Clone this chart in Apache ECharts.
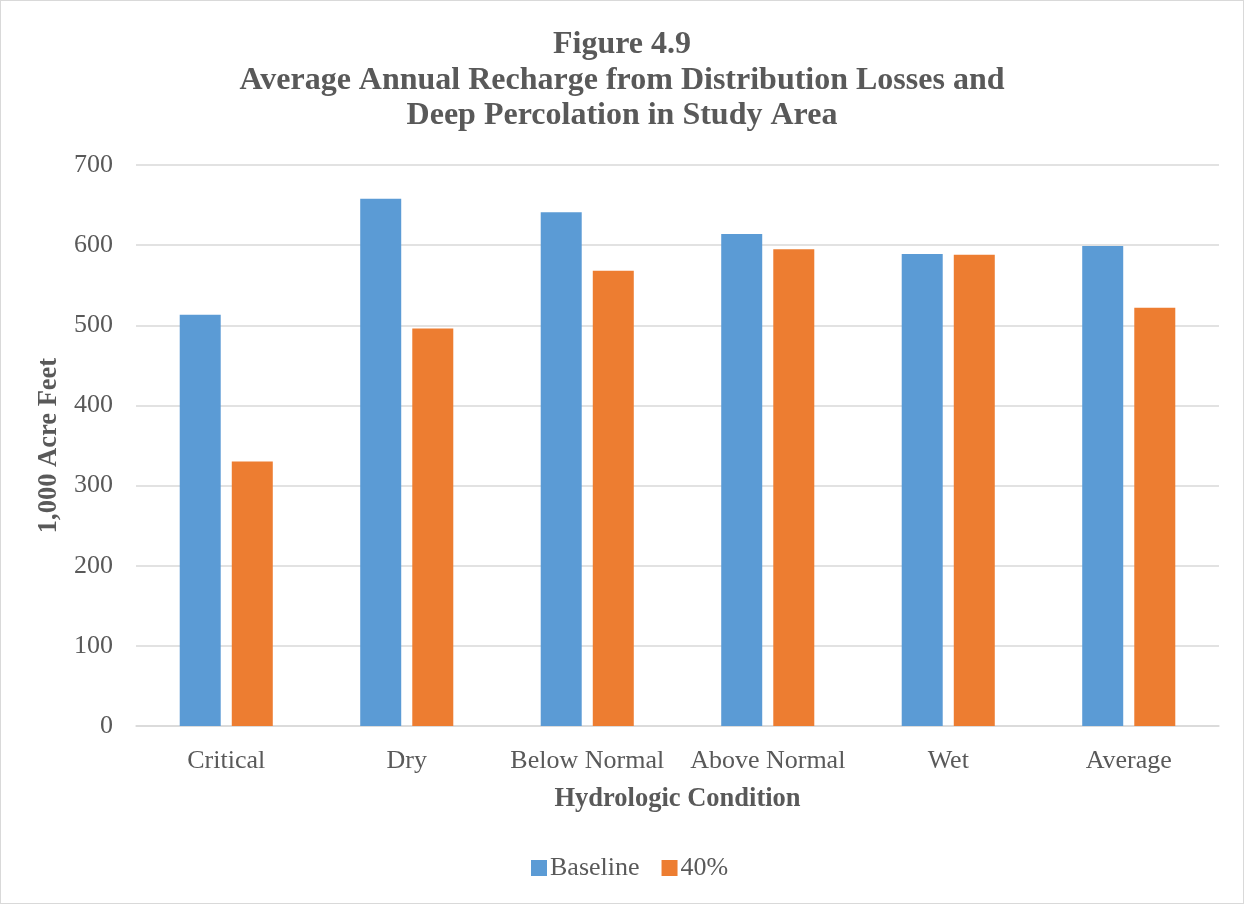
<!DOCTYPE html>
<html>
<head>
<meta charset="utf-8">
<script src="https://cdn.jsdelivr.net/npm/echarts@6/dist/echarts.min.js"></script>
<style>
  html, body { margin: 0; padding: 0; background: #fff; }
  #chart { position: absolute; left: 0; top: 0; width: 1244px; height: 904px;
           border: 1px solid #d9d9d9; box-sizing: border-box; }
</style>
</head>
<body>
<div id="chart"></div>
<script>
// Hydrologic conditions and recharge (1,000 acre feet)
const categories = ['Critical', 'Dry', 'Below Normal', 'Above Normal', 'Wet', 'Average'];
const baseline = [513, 658, 641, 614, 589, 599];
const pct40 = [330, 496, 568, 595, 588, 522];
const yTicks = [0, 100, 200, 300, 400, 500, 600, 700];

const serif = '"Liberation Serif", "Times New Roman", serif';
const textColor = '#595959';

const chart = echarts.init(document.getElementById('chart'), null, { renderer: 'canvas' });
chart.setOption({
  animation: false,
  textStyle: { fontFamily: serif },
  title: {
    text: 'Figure 4.9\nAverage Annual Recharge from Distribution Losses and\nDeep Percolation in Study Area',
    left: 'center',
    top: 21,
    textStyle: { fontFamily: serif, fontSize: 32, fontWeight: 'bold', color: textColor, lineHeight: 35.5 }
  },
  legend: {
    top: 849,
    left: 525,
    itemWidth: 16,
    itemHeight: 16,
    itemGap: 22,
    icon: 'rect',
    textStyle: { fontFamily: serif, fontSize: 26, color: textColor, padding: [0, 0, 0, -2] },
    data: ['Baseline', '40%']
  },
  grid: { left: 135, right: 24, top: 164, bottom: 177, containLabel: false },
  xAxis: {
    type: 'category',
    data: categories,
    name: 'Hydrologic Condition',
    nameLocation: 'middle',
    nameGap: 60,
    nameTextStyle: { fontFamily: serif, fontSize: 26.5, fontWeight: 'bold', color: textColor },
    axisLine: { lineStyle: { color: '#d9d9d9', width: 1.5 } },
    axisTick: { show: false },
    axisLabel: { fontFamily: serif, fontSize: 26, color: textColor, margin: 22, interval: 0 }
  },
  yAxis: {
    type: 'value',
    min: yTicks[0],
    max: yTicks[yTicks.length - 1],
    interval: 100,
    name: '1,000 Acre Feet',
    nameLocation: 'middle',
    nameGap: 73,
    nameRotate: 90,
    nameTextStyle: { fontFamily: serif, fontSize: 26.5, fontWeight: 'bold', color: textColor },
    axisLine: { show: false },
    axisTick: { show: false },
    axisLabel: { fontFamily: serif, fontSize: 26, color: textColor, margin: 23 },
    splitLine: { lineStyle: { color: '#d9d9d9', width: 1.5 } }
  },
  series: [
    { name: 'Baseline', type: 'bar', data: baseline, barWidth: 41, barGap: '27%',
      itemStyle: { color: '#5b9bd5' } },
    { name: '40%', type: 'bar', data: pct40, barWidth: 41, barGap: '27%',
      itemStyle: { color: '#ed7d31' } }
  ]
});
</script>
</body>
</html>
